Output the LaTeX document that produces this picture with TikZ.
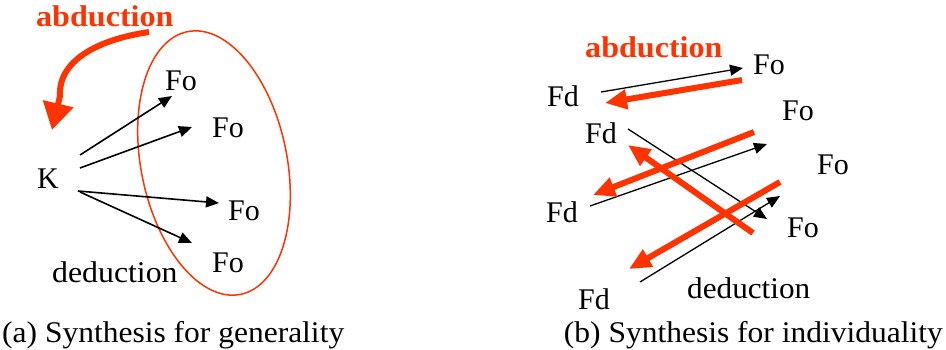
\documentclass[tikz,border=0pt]{standalone}
\usepackage{fontspec}
\setmainfont{Liberation Serif}
\usetikzlibrary{arrows.meta}
\definecolor{abred}{RGB}{255,51,0}
\tikzset{
  lbl/.style={anchor=base west, inner sep=0pt, font=\fontsize{30}{36}\selectfont},
  ablbl/.style={anchor=base west, inner sep=0pt, text=abred, font=\fontsize{30}{36}\selectfont\bfseries},
  caplbl/.style={inner sep=0pt, font=\fontsize{30}{36}\selectfont},
  blk/.style={line width=1.6pt, -{Triangle[length=13pt,width=11pt]}},
  blkr/.style={line width=1.3pt, -{Triangle[length=13pt,width=11pt]}},
  redarr/.style={abred, line width=6pt, -{Triangle[length=22pt,width=19pt]}},
}
\begin{document}
\begin{tikzpicture}[x=1pt,y=-1pt]
\useasboundingbox (0,0) rectangle (946,349);
% ---------- left panel ----------
\node[ablbl] (abl) at (36,26) {\scalebox{1.07}[1]{abduction}};
\node[lbl] (K) at (37,188) {K};
\node[lbl] (lfo1) at (165,90) {Fo};
\node[lbl] (lfo2) at (212,137) {Fo};
\node[lbl] (lfo3) at (228,220) {Fo};
\node[lbl] (lfo4) at (212,272) {Fo};
\node[lbl] (dedl) at (52,282) {\scalebox{1.06}[1]{deduction}};
\draw[abred, line width=1.5pt, rotate around={11.4:(214,163)}] (214,163) ellipse [x radius=73, y radius=134];
\coordinate (ks1) at (80,155);
\coordinate (ks2) at (80,168);
\coordinate (ks3) at (78,191);
\coordinate (ks4) at (80,192);
\coordinate (ke1) at (172,96);
\coordinate (ke2) at (192,127);
\coordinate (ke3) at (219,203);
\coordinate (ke4) at (192,243);
\draw[blk] (ks1) -- (ke1);
\draw[blk] (ks2) -- (ke2);
\draw[blk] (ks3) -- (ke3);
\draw[blk] (ks4) -- (ke4);
\coordinate (cs) at (149,32);
\coordinate (cm) at (60,96);
\coordinate (ce) at (52,130);
\draw[abred, line width=6pt, -{Triangle[length=27pt,width=30pt]}] (cs) .. controls (95,40) and (58,62) .. (cm) -- (ce);
% ---------- right panel ----------
\node[ablbl] (abr) at (585,57) {\scalebox{1.07}[1]{abduction}};
\node[lbl] (rfo1) at (753,74) {Fo};
\node[lbl] (rfo2) at (782,120) {Fo};
\node[lbl] (rfo3) at (817,174) {Fo};
\node[lbl] (rfo4) at (787,237) {Fo};
\node[lbl] (fd1) at (547,106) {Fd};
\node[lbl] (fd2) at (585,143) {Fd};
\node[lbl] (fd3) at (546,222) {Fd};
\node[lbl] (fd4) at (578,309) {Fd};
\node[lbl] (dedr) at (687,298) {\scalebox{1.04}[1]{deduction}};
% black deduction arrows
\coordinate (bas) at (601,92);  \coordinate (bae) at (743,68);
\coordinate (bbs) at (628,129); \coordinate (bbe) at (767,219);
\coordinate (bcs) at (590,206); \coordinate (bce) at (767,144);
\coordinate (bds) at (640,282); \coordinate (bde) at (780,196);
\draw[blkr] (bas) -- (bae);
\draw[blkr] (bbs) -- (bbe);
\draw[blkr] (bcs) -- (bce);
\draw[blkr] (bds) -- (bde);
% red abduction arrows
\coordinate (ras) at (742,80);  \coordinate (rae) at (605,103);
\coordinate (rbs) at (753,233); \coordinate (rbe) at (628,145);
\coordinate (rcs) at (754,132); \coordinate (rce) at (593,195);
\coordinate (rds) at (780,182); \coordinate (rde) at (629,269);
\draw[redarr] (ras) -- (rae);
\draw[redarr] (rbs) -- (rbe);
\draw[redarr] (rcs) -- (rce);
\draw[redarr] (rds) -- (rde);
% ---------- captions ----------
\node[caplbl, anchor=base west] (capa) at (2,342) {\scalebox{1.05}[1]{(a) Synthesis for generality}};
\node[caplbl, anchor=base east] (capb) at (943,342) {\scalebox{1.05}[1]{(b) Synthesis for individuality}};
\end{tikzpicture}
\end{document}
